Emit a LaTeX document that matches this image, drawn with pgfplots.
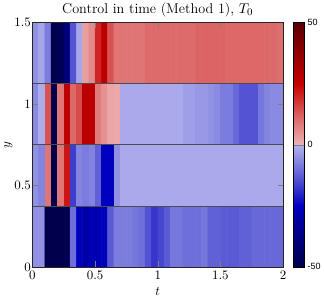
\documentclass[border=0pt]{standalone}
\usepackage{fontspec}
\usepackage{pgfplots}
\pgfplotsset{compat=1.18}
\newfontfamily\arialfont{Liberation Sans}
\begin{document}
\begin{tikzpicture}
\begin{axis}[
  scale only axis, width=194pt, height=189pt,
  xmin=0, xmax=2, ymin=0, ymax=1.5,
  xtick={0,0.5,1,1.5,2}, ytick={0,0.5,1,1.5},
  xlabel={$t$}, ylabel={$y$},
  yticklabel style={inner xsep=1pt},
  ylabel shift=-3pt, xlabel shift=-1pt,
  xlabel style={text depth=4.5pt},
  title={Control in time (Method 1), $T_0$},
  title style={font=\fontsize{11}{13}\selectfont, inner ysep=2pt, yshift=-3.7pt},
  axis line style={gray!30!black},
  colormap={ctrl}{rgb(0pt)=(0,0,0.3); rgb(200pt)=(0,0,0.65); rgb(250pt)=(0,0,0.75); rgb(350pt)=(0.3,0.3,0.82); rgb(499pt)=(0.7,0.7,0.93); rgb(501pt)=(0.93,0.7,0.7); rgb(620pt)=(0.86,0.38,0.38); rgb(750pt)=(0.78,0,0); rgb(1000pt)=(0.35,0,0.02)},
  point meta min=-50, point meta max=50,
  colorbar,
  colorbar shift/.style={xshift=2pt},
  colorbar style={width=8.5pt, ytick={-50,0,50}, yticklabels={-50,0,50},
    yticklabel style={font=\arialfont\fontsize{7}{8}\selectfont, inner xsep=2.5pt}},
  axis on top,
  tick align=inside,
]
\addplot[matrix plot*, mesh/cols=40, point meta=explicit] table[row sep=\\, meta=c] {
x y c \\
0.025 0.1875 -5 \\ 0.075 0.1875 -5 \\ 0.125 0.1875 -50 \\ 0.175 0.1875 -50 \\ 0.225 0.1875 -50 \\ 0.275 0.1875 -50 \\ 0.325 0.1875 -10 \\ 0.375 0.1875 -25 \\ 0.425 0.1875 -30 \\ 0.475 0.1875 -27 \\
0.525 0.1875 -27 \\ 0.575 0.1875 -26 \\ 0.625 0.1875 -13 \\ 0.675 0.1875 -8 \\ 0.725 0.1875 -8 \\ 0.775 0.1875 -8 \\ 0.825 0.1875 -9 \\ 0.875 0.1875 -10 \\ 0.925 0.1875 -14 \\ 0.975 0.1875 -18 \\
1.025 0.1875 -16 \\ 1.075 0.1875 -13 \\ 1.125 0.1875 -9 \\ 1.175 0.1875 -9 \\ 1.225 0.1875 -10 \\ 1.275 0.1875 -10 \\ 1.325 0.1875 -10 \\ 1.375 0.1875 -9 \\ 1.425 0.1875 -12 \\ 1.475 0.1875 -12 \\
1.525 0.1875 -13 \\ 1.575 0.1875 -13 \\ 1.625 0.1875 -13 \\ 1.675 0.1875 -12 \\ 1.725 0.1875 -12 \\ 1.775 0.1875 -11 \\ 1.825 0.1875 -11 \\ 1.875 0.1875 -11 \\ 1.925 0.1875 -11 \\ 1.975 0.1875 -11 \\
0.025 0.5625 -5 \\ 0.075 0.5625 -7 \\ 0.125 0.5625 9 \\ 0.175 0.5625 -50 \\ 0.225 0.5625 9 \\ 0.275 0.5625 22 \\ 0.325 0.5625 -17 \\ 0.375 0.5625 -7 \\ 0.425 0.5625 -8 \\ 0.475 0.5625 -7 \\
0.525 0.5625 -12 \\ 0.575 0.5625 -25 \\ 0.625 0.5625 -25 \\ 0.675 0.5625 -5 \\ 0.725 0.5625 -1.5 \\ 0.775 0.5625 -1.5 \\ 0.825 0.5625 -1.5 \\ 0.875 0.5625 -1.5 \\ 0.925 0.5625 -1.5 \\ 0.975 0.5625 -1.5 \\
1.025 0.5625 -1.5 \\ 1.075 0.5625 -1.5 \\ 1.125 0.5625 -1.5 \\ 1.175 0.5625 -1.5 \\ 1.225 0.5625 -1.5 \\ 1.275 0.5625 -1.5 \\ 1.325 0.5625 -1.5 \\ 1.375 0.5625 -1.5 \\ 1.425 0.5625 -1.5 \\ 1.475 0.5625 -1.5 \\
1.525 0.5625 -1.5 \\ 1.575 0.5625 -1.5 \\ 1.625 0.5625 -1.5 \\ 1.675 0.5625 -1.5 \\ 1.725 0.5625 -1.5 \\ 1.775 0.5625 -1.5 \\ 1.825 0.5625 -1.5 \\ 1.875 0.5625 -1.5 \\ 1.925 0.5625 -1.5 \\ 1.975 0.5625 -1.5 \\
0.025 0.9375 -6 \\ 0.075 0.9375 -1 \\ 0.125 0.9375 14 \\ 0.175 0.9375 -50 \\ 0.225 0.9375 9 \\ 0.275 0.9375 28 \\ 0.325 0.9375 11 \\ 0.375 0.9375 15 \\ 0.425 0.9375 28 \\ 0.475 0.9375 28 \\
0.525 0.9375 8 \\ 0.575 0.9375 5 \\ 0.625 0.9375 2 \\ 0.675 0.9375 1.5 \\ 0.725 0.9375 -1.5 \\ 0.775 0.9375 -1.5 \\ 0.825 0.9375 -1.5 \\ 0.875 0.9375 -1.5 \\ 0.925 0.9375 -1.5 \\ 0.975 0.9375 -1.5 \\
1.025 0.9375 -1.5 \\ 1.075 0.9375 -1.5 \\ 1.125 0.9375 -1.5 \\ 1.175 0.9375 -1.5 \\ 1.225 0.9375 -3 \\ 1.275 0.9375 -3 \\ 1.325 0.9375 -4 \\ 1.375 0.9375 -4 \\ 1.425 0.9375 -5 \\ 1.475 0.9375 -6 \\
1.525 0.9375 -8 \\ 1.575 0.9375 -8 \\ 1.625 0.9375 -11 \\ 1.675 0.9375 -14 \\ 1.725 0.9375 -14 \\ 1.775 0.9375 -14 \\ 1.825 0.9375 -9 \\ 1.875 0.9375 -7 \\ 1.925 0.9375 -6 \\ 1.975 0.9375 -6 \\
0.025 1.3125 -5 \\ 0.075 1.3125 -2 \\ 0.125 1.3125 -8 \\ 0.175 1.3125 -50 \\ 0.225 1.3125 -48 \\ 0.275 1.3125 -40 \\ 0.325 1.3125 -14 \\ 0.375 1.3125 -2 \\ 0.425 1.3125 3 \\ 0.475 1.3125 6 \\
0.525 1.3125 20 \\ 0.575 1.3125 28 \\ 0.625 1.3125 14 \\ 0.675 1.3125 9 \\ 0.725 1.3125 9 \\ 0.775 1.3125 9 \\ 0.825 1.3125 9 \\ 0.875 1.3125 9 \\ 0.925 1.3125 10.5 \\ 0.975 1.3125 10.5 \\
1.025 1.3125 10.5 \\ 1.075 1.3125 10.5 \\ 1.125 1.3125 10.5 \\ 1.175 1.3125 10.5 \\ 1.225 1.3125 10.5 \\ 1.275 1.3125 10.5 \\ 1.325 1.3125 11.5 \\ 1.375 1.3125 11.5 \\ 1.425 1.3125 11.5 \\ 1.475 1.3125 11.5 \\
1.525 1.3125 11.5 \\ 1.575 1.3125 11 \\ 1.625 1.3125 11 \\ 1.675 1.3125 11 \\ 1.725 1.3125 11 \\ 1.775 1.3125 11 \\ 1.825 1.3125 11 \\ 1.875 1.3125 11 \\ 1.925 1.3125 11 \\ 1.975 1.3125 10 \\
};
\addplot[gray!60!black, line width=0.4pt, forget plot] coordinates {(0,0.375) (2,0.375)};
\addplot[gray!60!black, line width=0.4pt, forget plot] coordinates {(0,0.75) (2,0.75)};
\addplot[gray!60!black, line width=0.4pt, forget plot] coordinates {(0,1.125) (2,1.125)};
\end{axis}
\end{tikzpicture}
\end{document}
